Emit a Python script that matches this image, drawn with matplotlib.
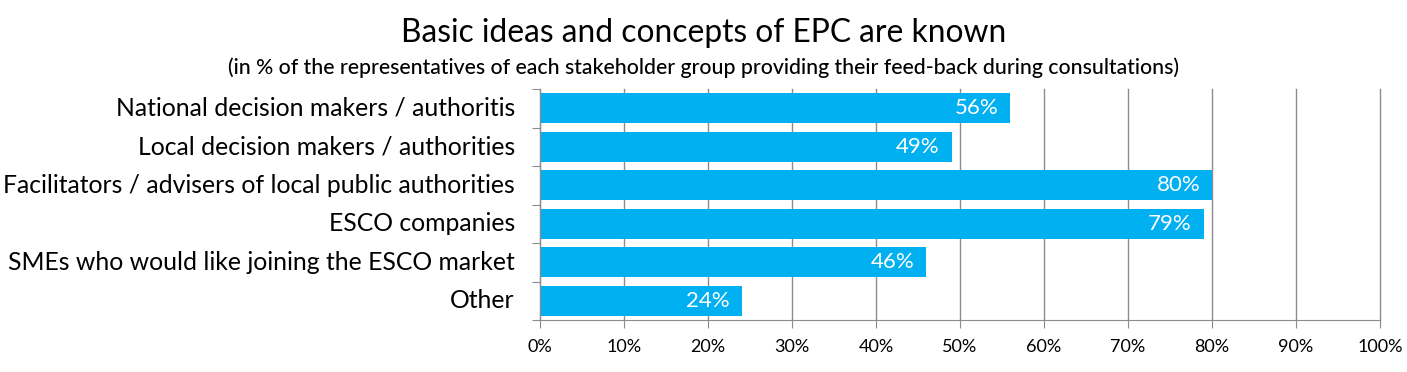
import matplotlib
matplotlib.use('Agg')
import matplotlib.pyplot as plt
import numpy as np

plt.rcParams['font.family'] = ['Lato', 'DejaVu Sans']

categories = ['National decision makers / authoritis',
              'Local decision makers / authorities',
              'Facilitators / advisers of local public authorities',
              'ESCO companies',
              'SMEs who would like joining the ESCO market',
              'Other']
values = [56, 49, 80, 79, 46, 24]
xticks = list(range(0, 101, 10))

BAR_COLOR = '#00B0F0'
GRID_COLOR = '#8C8C8C'

fig = plt.figure(figsize=(14.07, 3.72), dpi=100)
ax = fig.add_axes([540 / 1407, 1 - 320 / 372, 840 / 1407, 231 / 372])

y = np.arange(len(categories))
ax.barh(y, values, height=0.78, color=BAR_COLOR, zorder=3)
ax.set_ylim(len(categories) - 0.5, -0.5)
ax.set_xlim(0, 100)

for yi, v in zip(y, values):
    ax.text(v - 1.4, yi, f'{v}%', color='white', fontsize=16,
            ha='right', va='center', zorder=4)

# category labels drawn as text so the boundary ticks can stay on the spine
for yi, c in zip(y, categories):
    ax.text(-3.0, yi, c, fontsize=17.8, ha='right', va='center',
            transform=ax.transData, clip_on=False)

ax.set_yticks(np.arange(-0.5, len(categories), 1))
ax.set_yticklabels([])
ax.tick_params(axis='y', length=6, color=GRID_COLOR, direction='out')

ax.set_xticks(xticks)
ax.set_xticklabels([f'{t}%' for t in xticks], fontsize=13)
ax.tick_params(axis='x', length=6, color=GRID_COLOR, direction='out', pad=8)
ax.xaxis.grid(True, color=GRID_COLOR, linewidth=1, zorder=0)
for gl in ax.get_xgridlines():
    gl.set_clip_on(False)

for s in ['top', 'right']:
    ax.spines[s].set_visible(False)
for s in ['left', 'bottom']:
    ax.spines[s].set_color(GRID_COLOR)
    ax.spines[s].set_zorder(5)

fig.text(0.5, 1 - 33 / 372, 'Basic ideas and concepts of EPC are known',
         fontsize=22.9, ha='center', va='center')
fig.text(0.5, 1 - 68 / 372,
         '(in % of the representatives of each stakeholder group providing their feed-back during consultations)',
         fontsize=15.3, ha='center', va='center', fontweight='medium')

fig.savefig('out.png', dpi=100)
